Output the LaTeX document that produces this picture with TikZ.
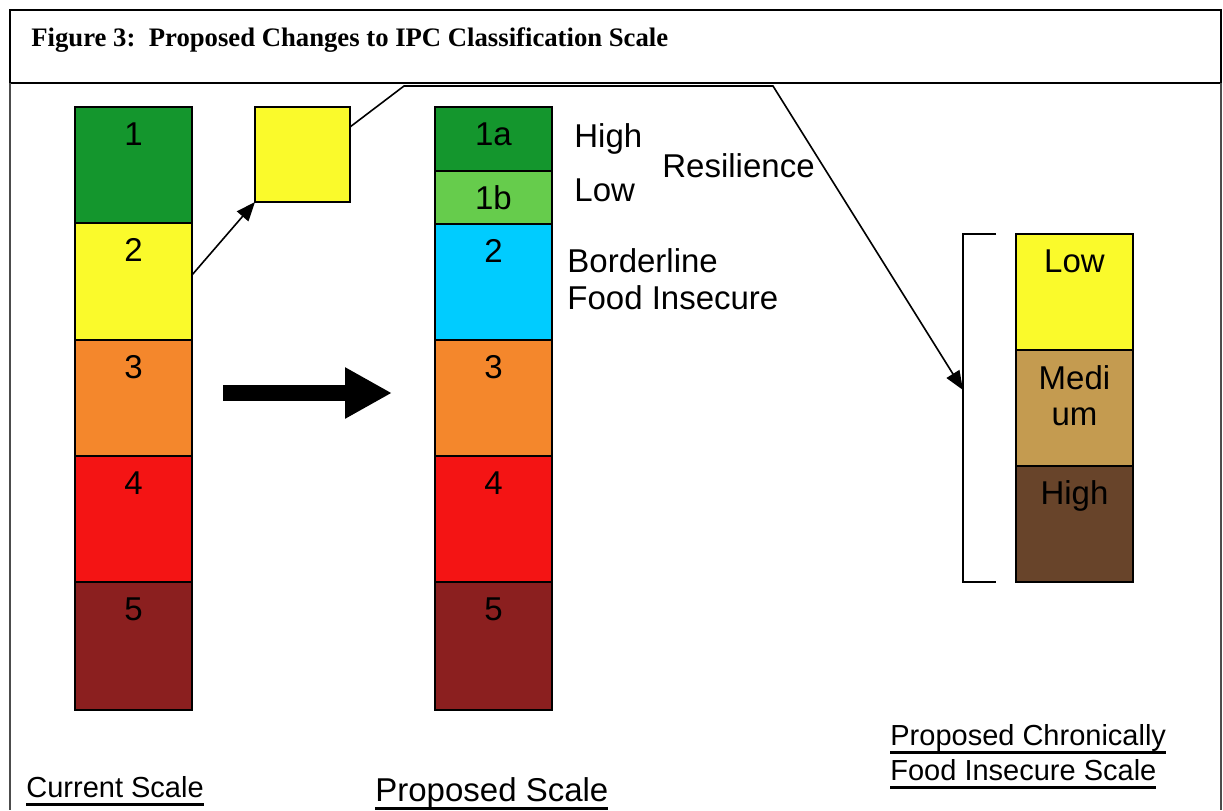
\documentclass[tikz,border=0pt]{standalone}
\usepackage{fontspec}
\setmainfont{Liberation Sans}
\newfontfamily\timesfont{Liberation Serif}
\usepackage{tikz}
\usetikzlibrary{positioning,arrows.meta}

\definecolor{ipcgreen}{HTML}{14962D}
\definecolor{ipclight}{HTML}{66CC4C}
\definecolor{ipccyan}{HTML}{00CCFF}
\definecolor{ipcyellow}{HTML}{FAFA2B}
\definecolor{ipcorange}{HTML}{F4872C}
\definecolor{ipcred}{HTML}{F41414}
\definecolor{ipcmaroon}{HTML}{8B1F1F}
\definecolor{ipctan}{HTML}{C49B50}
\definecolor{ipcbrown}{HTML}{68442A}

% underlined text, Word style
\newcommand{\undr}[1]{\setbox0\hbox{#1}\rlap{\rule[-4.5pt]{\wd0}{1.5pt}}\box0}

\begin{document}
\begin{tikzpicture}[x=0.5pt, y=-0.5pt,
  cell/.style={draw, line width=1pt, outer sep=0pt, inner sep=0pt, minimum width=58.5pt},
  num/.style={font=\fontsize{16.5}{18}\selectfont, inner sep=0pt, text depth=0pt, align=center, label distance=-19.5pt},
  lbl/.style={font=\fontsize{16.5}{19}\selectfont, inner sep=0pt, anchor=base west},
  small/.style={font=\fontsize{14.5}{17}\selectfont},
  conn/.style={line width=0.8pt},
  tip/.style={-{Triangle[length=9.5pt, width=7.5pt]}}]
\useasboundingbox (0,0) rectangle (1223,810);

% frame and title
\node[draw, line width=1pt, outer sep=0pt, inner sep=0pt, minimum width=605.5pt, minimum height=36.5pt, anchor=north west] (frame) at (10,10) {};
\node[anchor=base west, inner sep=0pt, font=\timesfont\bfseries\fontsize{13.35}{15}\selectfont] (title) at (31,46) {Figure 3:\ \ Proposed Changes to IPC Classification Scale};
\draw[line width=0.8pt, black!70] (frame.south west) -- ++(0,727);
\draw[line width=0.8pt, black!70] (frame.south east) -- ++(0,727);

% current scale
\node[cell, fill=ipcgreen, minimum height=58pt, anchor=north west, label={[num]north:1}] (c1) at (75,107) {};
\node[cell, fill=ipcyellow, minimum height=58.5pt, below=0pt of c1, label={[num]north:2}] (c2) {};
\node[cell, fill=ipcorange, minimum height=58pt, below=0pt of c2, label={[num]north:3}] (c3) {};
\node[cell, fill=ipcred, minimum height=63pt, below=0pt of c3, label={[num]north:4}] (c4) {};
\node[cell, fill=ipcmaroon, minimum height=64pt, below=0pt of c4, label={[num]north:5}] (c5) {};

% split-off phase 2
\node[cell, fill=ipcyellow, minimum width=47.5pt, minimum height=47.5pt, anchor=north west] (sub) at (255,107) {};

% proposed scale
\node[cell, fill=ipcgreen, minimum height=32pt, anchor=north west, label={[num]north:1a}] (p1a) at (435,107) {};
\node[cell, fill=ipclight, minimum height=26.5pt, below=0pt of p1a, label={[num]north:1b}] (p1b) {};
\node[cell, fill=ipccyan, minimum height=58pt, below=0pt of p1b, label={[num]north:2}] (p2) {};
\node[cell, fill=ipcorange, minimum height=58pt, below=0pt of p2, label={[num]north:3}] (p3) {};
\node[cell, fill=ipcred, minimum height=63pt, below=0pt of p3, label={[num]north:4}] (p4) {};
\node[cell, fill=ipcmaroon, minimum height=64pt, below=0pt of p4, label={[num]north:5}] (p5) {};

\node[lbl] (high) at (574,147) {High};
\node[lbl] (low) at (574,201) {Low};
\node[lbl] (resil) at (662,177) {Resilience};
\node[lbl] (border) at (567,272) {Borderline};
\node[lbl] (insec) at (567,309) {Food Insecure};

% chronic scale
\node[cell, fill=ipcyellow, minimum height=58pt, anchor=north west, label={[num]north:Low}] (r1) at (1016,234) {};
\node[cell, fill=ipctan, minimum height=58pt, below=0pt of r1, label={[num, label distance=-38pt]north:Medi\\um}] (r2) {};
\node[cell, fill=ipcbrown, minimum height=58pt, below=0pt of r2, label={[num]north:High}] (r3) {};

% connectors
\draw[conn, tip] ([yshift=3.25pt]c2.east) -- (sub.south west);
\coordinate (bend1) at (404,86);
\coordinate (bend2) at (773,86);
\coordinate (brtip) at ([xshift=-26.5pt, yshift=9pt]r2.west);
\draw[conn, tip] ([yshift=13.75pt]sub.east) -- (bend1) -- (bend2) -- (brtip);
\draw[conn] ([xshift=-10pt]r1.north west) -- ([xshift=-26.5pt]r1.north west) -- ([xshift=-26.5pt]r3.south west) -- ([xshift=-10pt]r3.south west);
\draw[line width=8pt, -{Triangle[length=23.5pt, width=24pt]}] ([xshift=15.5pt, yshift=2.5pt]c3.east) -- ([xshift=-21.5pt, yshift=2.5pt]p3.west);

% captions
\node[lbl, small] (cur) at (26,797) {\undr{Current Scale}};
\node[lbl] (prop) at (375,801) {\undr{Proposed Scale}};
\node[lbl, small] (chr1) at (890,745) {\undr{Proposed Chronically}};
\node[lbl, small] (chr2) at (890,780) {\undr{Food Insecure Scale}};
\end{tikzpicture}
\end{document}
